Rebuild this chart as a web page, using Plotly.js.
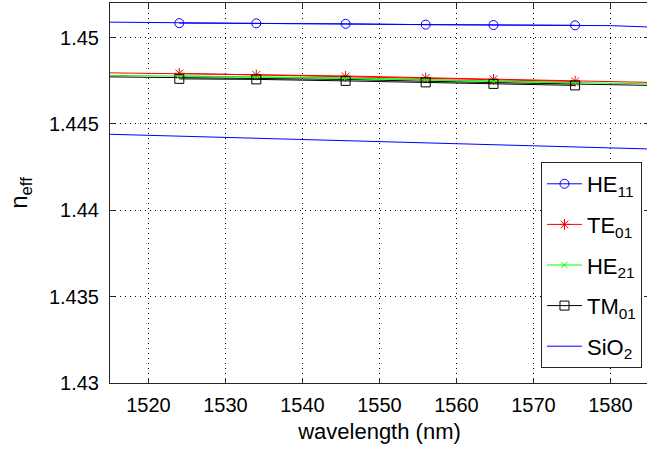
<!DOCTYPE html>
<html>
<head>
<meta charset="utf-8">
<script src="https://cdn.plot.ly/plotly-3.0.1.min.js"></script>
<style>
html, body { margin: 0; padding: 0; overflow: hidden; background: #fff; }
#chart { width: 649px; height: 450px; }
</style>
</head>
<body>
<div id="chart"></div>
<script>
// ---- data ----
var lineWavelength = [1515, 1530, 1545, 1560, 1575, 1585];
var markWavelength = [1524.0, 1534.0, 1545.6, 1556.0, 1564.8, 1575.4];

var he11Wavelength = [1515, 1525, 1540, 1555, 1570, 1580, 1585];
var he11Line = [1.45089, 1.45084, 1.45080, 1.45075, 1.45071, 1.45069, 1.45061];
var he11Mark = [1.450834, 1.450823, 1.450794, 1.450748, 1.450724, 1.450707];

var te01Line = [1.447955, 1.447868, 1.447781, 1.447636, 1.447520, 1.447404];
var te01Mark = [1.447926, 1.447839, 1.447752, 1.447665, 1.447578, 1.447462];

var he21Line = [1.447810, 1.447752, 1.447665, 1.447520, 1.447404, 1.447317];
var he21Mark = [1.447781, 1.447723, 1.447636, 1.447549, 1.447462, 1.447375];

var tm01Line = [1.447723, 1.447665, 1.447578, 1.447433, 1.447317, 1.447230];
var tm01Mark = [1.447607, 1.447578, 1.447491, 1.447404, 1.447317, 1.447230];

var sio2Wavelength = [1515, 1525, 1535, 1545, 1555, 1565, 1575, 1585];
var sio2Line = [1.44440, 1.44428, 1.44416, 1.44404, 1.44392, 1.44380, 1.44367, 1.44355];

var seriesNames = ['HE<sub>11</sub>', 'TE<sub>01</sub>', 'HE<sub>21</sub>', 'TM<sub>01</sub>', 'SiO<sub>2</sub>'];
var xTicks = [1520, 1530, 1540, 1550, 1560, 1570, 1580];
var yTicks = [1.43, 1.435, 1.44, 1.445, 1.45];
var yTickText = ['1.43', '1.435', '1.44', '1.445', '1.45'];

// ---- styles ----
var FONT = 'Liberation Sans, Arial, Helvetica, sans-serif';

function lineTrace(x, y, color) {
  return {x: x, y: y, mode: 'lines', type: 'scatter', showlegend: false,
          hoverinfo: 'skip', line: {color: color, width: 1}};
}
function markTrace(x, y, color, symbol, size, name, group) {
  return {x: x, y: y, mode: 'lines+markers', type: 'scatter', name: name,
          legendgroup: group,
          line: {color: color, width: 1},
          marker: {color: color, symbol: symbol, size: size, line: {color: color, width: 1}}};
}

var data = [
  lineTrace(he11Wavelength, he11Line, '#0000ff'),
  markTrace(markWavelength, he11Mark, '#0000ff', 'circle-open', 9, seriesNames[0], 'g1'),
  lineTrace(lineWavelength, tm01Line, '#000000'),
  lineTrace(lineWavelength, he21Line, '#00ff00'),
  lineTrace(lineWavelength, te01Line, '#ff0000'),
  markTrace(markWavelength, te01Mark, '#ff0000', 'asterisk-open', 9, seriesNames[1], 'g2'),
  markTrace(markWavelength, he21Mark, '#00ff00', 'x-thin-open', 6, seriesNames[2], 'g3'),
  markTrace(markWavelength, tm01Mark, '#000000', 'square-open', 9, seriesNames[3], 'g4'),
  {x: sio2Wavelength, y: sio2Line, mode: 'lines', type: 'scatter', name: seriesNames[4],
   legendgroup: 'g5', line: {color: '#0000ff', width: 1}}
];

var axisCommon = {
  showline: true, linecolor: '#262626', linewidth: 1, mirror: 'ticks',
  ticks: 'inside', ticklen: 5, tickcolor: '#262626', tickwidth: 1,
  showgrid: true, gridcolor: '#000000', gridwidth: 1, griddash: '1px,4px',
  zeroline: false, tickfont: {family: FONT, size: 20, color: '#000'}
};

var layout = {
  width: 649, height: 450,
  margin: {l: 110, r: 0, t: 3, b: 67},
  paper_bgcolor: '#fff', plot_bgcolor: '#fff',
  font: {family: FONT, color: '#000'},
  xaxis: Object.assign({}, axisCommon, {
    range: [1515, 1585], tickvals: xTicks, ticklabelstandoff: 4,
    title: {text: 'wavelength (nm)', font: {family: FONT, size: 22, color: '#000'}, standoff: 8}
  }),
  yaxis: Object.assign({}, axisCommon, {
    range: [1.43, 1.452], tickvals: yTicks, ticktext: yTickText, ticklabelstandoff: 6,
    title: {text: 'n<sub>eff</sub>', font: {family: FONT, size: 24, color: '#000'}, standoff: 14}
  }),
  legend: {
    x: 0.7996, y: 0.5816, xanchor: 'left', yanchor: 'top',
    bgcolor: '#fff', bordercolor: '#262626', borderwidth: 1,
    font: {family: FONT, size: 22, color: '#000'},
    tracegroupgap: 9, itemwidth: 35,
    traceorder: 'grouped'
  },
  showlegend: true
};

Plotly.newPlot('chart', data, layout, {staticPlot: true, displayModeBar: false});
</script>
</body>
</html>
